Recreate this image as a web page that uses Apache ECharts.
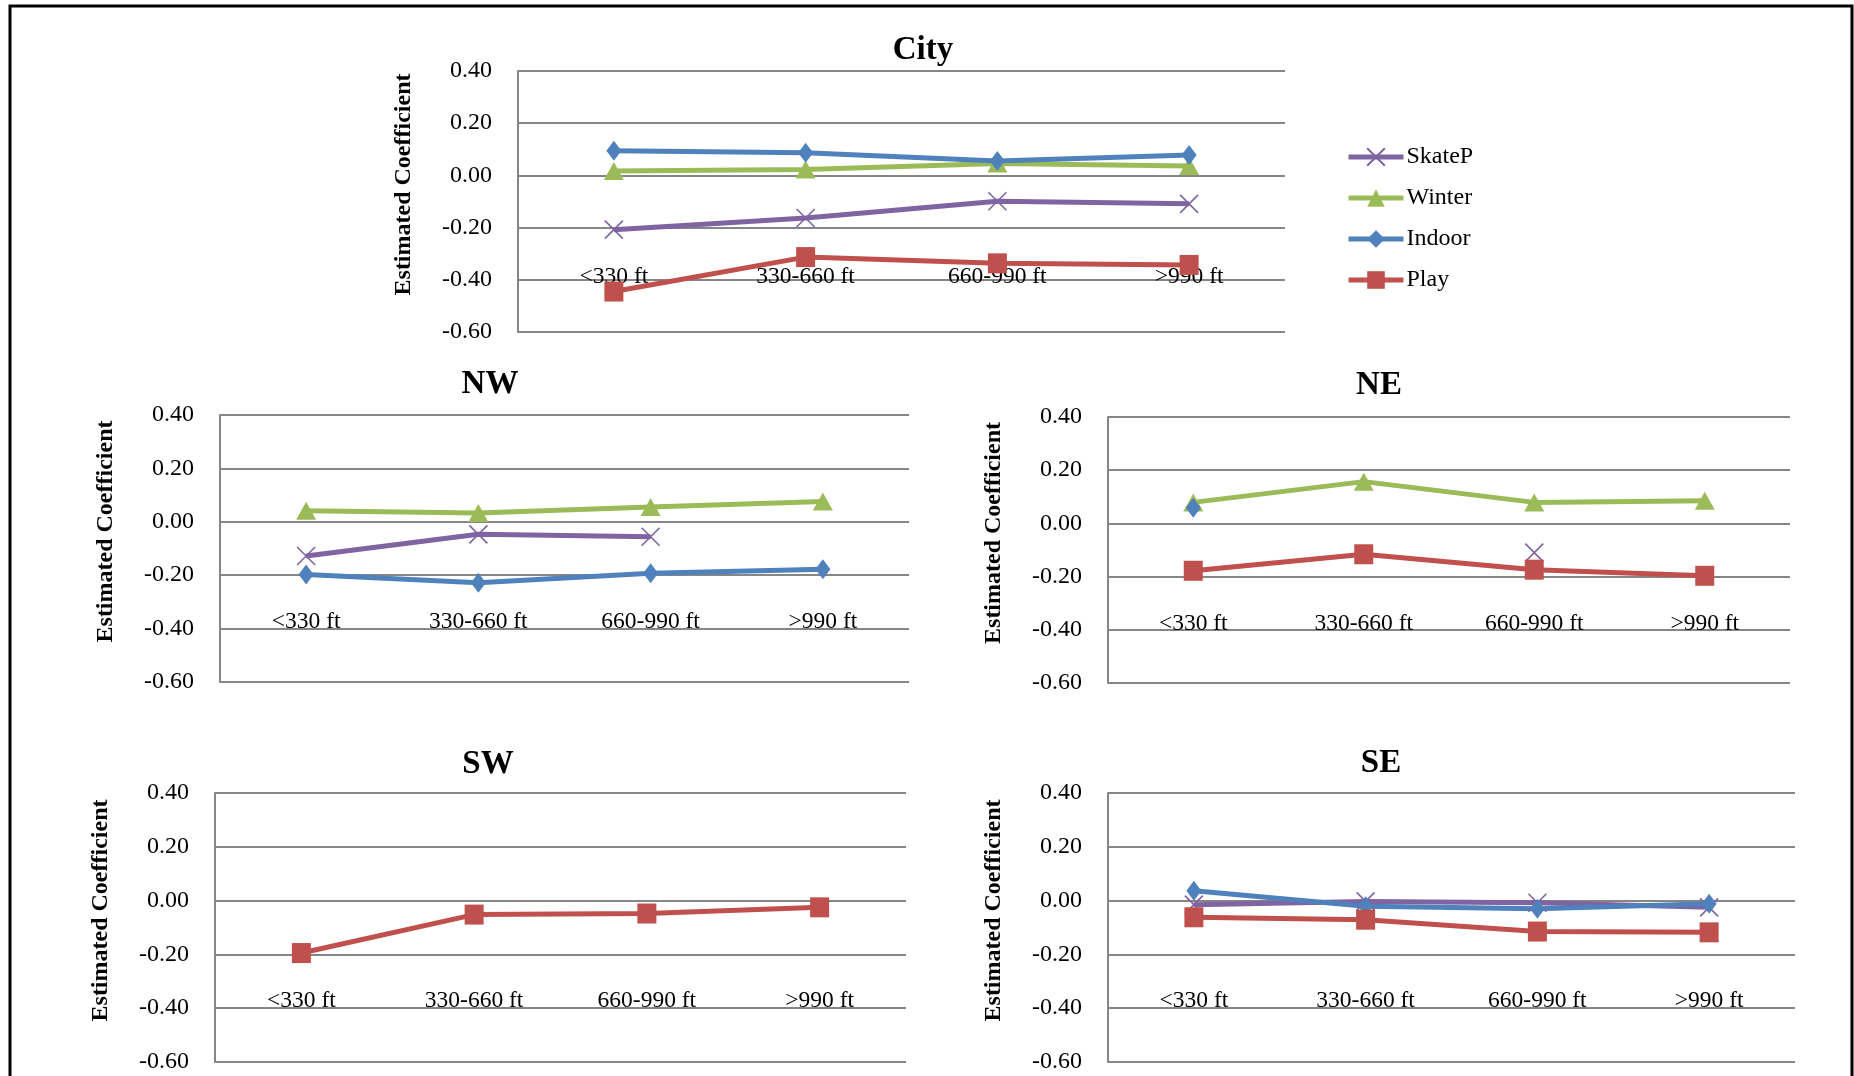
<!DOCTYPE html>
<html>
<head>
<meta charset="utf-8">
<title>Estimated Coefficient by Distance Band</title>
<script src="https://cdn.jsdelivr.net/npm/echarts@6/dist/echarts.min.js"></script>
<style>
  html, body { margin: 0; padding: 0; background: #fff; }
  #chart { width: 1854px; height: 1076px; }
</style>
</head>
<body>
<div id="chart"></div>
<script>
// Distance bands (x categories)
const categories = ['<330 ft', '330-660 ft', '660-990 ft', '>990 ft'];

// Y axis range and tick step
const yMin = -0.6;
const yMax = 0.4;
const yStep = 0.2;

// Panel titles
const panelTitles = ['City', 'NW', 'NE', 'SW', 'SE'];

// City
const citySkateP = [-0.208, -0.163, -0.099, -0.109];
const cityWinter = [0.017, 0.023, 0.046, 0.036];
const cityIndoor = [0.094, 0.087, 0.055, 0.078];
const cityPlay = [-0.445, -0.313, -0.337, -0.343];

// NW
const nwSkateP = [-0.128, -0.047, -0.056, null];
const nwWinter = [0.041, 0.033, 0.055, 0.076];
const nwIndoor = [-0.197, -0.228, -0.193, -0.178];

// NE
const neSkateP = [null, null, -0.11, null];
const neWinter = [0.079, 0.157, 0.079, 0.085];
const neIndoor = [0.059, null, null, null];
const nePlay = [-0.178, -0.116, -0.174, -0.197];

// SW
const swPlay = [-0.195, -0.052, -0.048, -0.025];

// SE
const seSkateP = [-0.015, -0.003, -0.008, -0.025];
const seIndoor = [0.037, -0.021, -0.030, -0.012];
const sePlay = [-0.062, -0.071, -0.115, -0.118];

const FONT = '"Liberation Serif", "Times New Roman", serif';
const GRID_GRAY = '#868686';

const seriesStyle = {
  SkateP: { color: '#8064A2', symbol: 'path://M0,0L20,20M20,0L0,20', symbolSize: [18, 18], border: 1.6 },
  Winter: { color: '#9BBB59', symbol: 'triangle', symbolSize: [20, 18], border: 0 },
  Indoor: { color: '#4F81BD', symbol: 'diamond', symbolSize: [15, 20], border: 0 },
  Play:   { color: '#C0504D', symbol: 'rect', symbolSize: [19, 20], border: 0 }
};

// Plot rectangles for the five panels, plus label and title placement
const panels = [
  { left: 518, top: 71,  width: 767, height: 261, labelLift: 55, title: [918, 48] },
  { left: 220, top: 415, width: 689, height: 267, labelLift: 60, title: [485, 382] },
  { left: 1108, top: 417, width: 682, height: 266, labelLift: 59, title: [1374, 383] },
  { left: 215, top: 793, width: 691, height: 269, labelLift: 61, title: [483, 762] },
  { left: 1108, top: 793, width: 687, height: 269, labelLift: 61, title: [1376, 761] }
];

const panelSeries = [
  [['SkateP', citySkateP], ['Winter', cityWinter], ['Indoor', cityIndoor], ['Play', cityPlay]],
  [['SkateP', nwSkateP], ['Winter', nwWinter], ['Indoor', nwIndoor]],
  [['SkateP', neSkateP], ['Winter', neWinter], ['Indoor', neIndoor], ['Play', nePlay]],
  [['Play', swPlay]],
  [['SkateP', seSkateP], ['Indoor', seIndoor], ['Play', sePlay]]
];

const grids = [], xAxes = [], yAxes = [], series = [], titles = [];

panels.forEach((p, i) => {
  grids.push({ left: p.left, top: p.top, width: p.width, height: p.height, containLabel: false });

  xAxes.push({
    type: 'category',
    gridIndex: i,
    data: categories,
    boundaryGap: true,
    offset: -p.labelLift,
    axisLine: { show: false },
    axisTick: { show: false },
    splitLine: { show: false },
    axisLabel: {
      margin: 0,
      verticalAlign: 'middle',
      fontFamily: FONT,
      fontSize: 23.5,
      color: '#000'
    }
  });

  yAxes.push({
    type: 'value',
    gridIndex: i,
    min: yMin,
    max: yMax,
    interval: yStep,
    name: 'Estimated Coefficient',
    nameLocation: 'middle',
    nameRotate: 90,
    nameGap: 102,
    nameTextStyle: {
      fontFamily: FONT,
      fontSize: 24,
      fontWeight: 'bold',
      color: '#000',
      padding: [0, 0, 0, 34]
    },
    axisLine: { show: true, lineStyle: { color: GRID_GRAY, width: 2 } },
    axisTick: { show: false },
    splitLine: { show: true, lineStyle: { color: GRID_GRAY, width: 2 } },
    axisLabel: {
      margin: 26,
      fontFamily: FONT,
      fontSize: 24,
      color: '#000',
      padding: [4, 0, 0, 0],
      formatter: v => (Math.abs(v) < 1e-9 ? 0 : v).toFixed(2)
    }
  });

  titles.push({
    text: panelTitles[i],
    left: p.title[0],
    top: p.title[1] - 19,
    textAlign: 'center',
    textStyle: { fontFamily: FONT, fontSize: 33, fontWeight: 'bold', color: '#000' }
  });

  panelSeries[i].forEach(([name, data]) => {
    const s = seriesStyle[name];
    series.push({
      name: name,
      type: 'line',
      xAxisIndex: i,
      yAxisIndex: i,
      data: data,
      symbol: s.symbol,
      symbolSize: s.symbolSize,
      showSymbol: true,
      showAllSymbol: true,
      connectNulls: false,
      lineStyle: { color: s.color, width: 5 },
      itemStyle: { color: s.color, borderColor: s.color, borderWidth: s.border },
      emphasis: { disabled: true }
    });
  });
});

const chart = echarts.init(document.getElementById('chart'), null, { renderer: 'canvas' });
chart.setOption({
  animation: false,
  backgroundColor: '#fff',
  title: titles,
  legend: {
    orient: 'vertical',
    left: 1341,
    top: 140,
    itemWidth: 55,
    itemHeight: 22,
    itemGap: 17,
    data: ['SkateP', 'Winter', 'Indoor', 'Play'],
    lineStyle: { width: 5 },
    textStyle: { fontFamily: FONT, fontSize: 24, color: '#000', padding: [0, 0, 0, -2] }
  },
  grid: grids,
  xAxis: xAxes,
  yAxis: yAxes,
  series: series,
  graphic: [{
    type: 'rect',
    silent: true,
    z: 100,
    shape: { x: 10, y: 6, width: 1842, height: 1200 },
    style: { fill: null, stroke: '#000', lineWidth: 3 }
  }]
});
</script>
</body>
</html>
